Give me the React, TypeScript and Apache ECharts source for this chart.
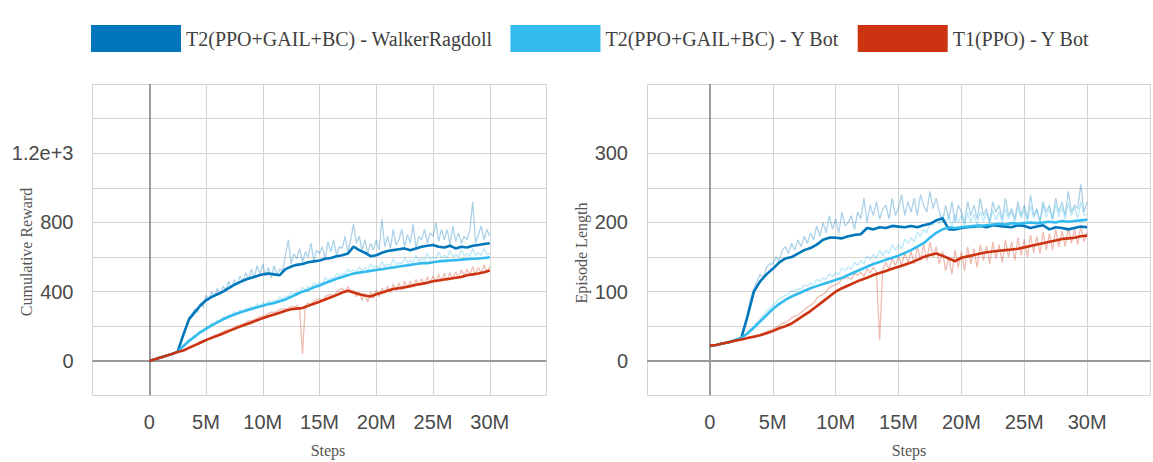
import React, { useEffect, useRef } from 'react';
import * as echarts from 'echarts';

const seriesNames = ['T2(PPO+GAIL+BC) - WalkerRagdoll', 'T2(PPO+GAIL+BC) - Y Bot', 'T1(PPO) - Y Bot'];
const seriesColors = ['#0077bb', '#33bbee', '#cc3311'];

const xTickValues = [0, 5, 10, 15, 20, 25, 30];
const xTickLabels = ['0', '5M', '10M', '15M', '20M', '25M', '30M'];
const rewardTickValues = [0, 400, 800, 1200];
const rewardTickLabels = ['0', '400', '800', '1.2e+3'];
const lengthTickValues = [0, 100, 200, 300];
const lengthTickLabels = ['0', '100', '200', '300'];

// steps in millions (smoothed curves)
const steps = [0,0.5,1,1.5,2,2.5,3,3.5,4,4.5,5,5.5,6,6.5,7,7.5,8,8.5,9,9.5,10,10.5,11,11.5,12,12.5,13,13.5,14,14.5,15,15.5,16,16.5,17,17.5,18,18.5,19,19.5,20,20.5,21,21.5,22,22.5,23,23.5,24,24.5,25,25.5,26,26.5,27,27.5,28,28.5,29,29.5,30];

const rewardWalker = [0,10,20,30,40,52,150,240,280,320,350,370,385,400,420,440,455,470,480,490,500,505,500,495,530,545,555,560,570,575,580,590,595,605,610,620,660,640,625,605,610,625,635,640,645,650,640,650,660,665,670,660,655,665,650,660,655,665,670,675,680];
const rewardYBotT2 = [0,10,20,30,40,52,85,115,140,165,185,205,222,240,255,268,280,290,300,310,318,328,335,345,355,370,385,400,410,425,435,450,462,475,485,495,505,510,515,520,525,530,535,540,545,550,555,560,565,565,570,575,578,580,582,585,588,590,592,595,598];
const rewardYBotT1 = [0,10,20,30,40,52,60,75,90,105,120,133,145,158,172,185,198,210,222,235,247,258,268,278,290,298,302,306,318,330,342,355,368,380,395,405,395,385,378,372,385,395,405,415,420,425,432,440,445,452,460,465,470,475,480,485,495,500,505,512,522];

const lengthWalker = [22,23,25,27,30,33,65,100,115,125,133,142,148,150,155,160,163,168,175,178,178,177,180,182,183,192,190,193,192,195,194,193,195,193,196,198,203,206,190,190,192,193,194,195,193,196,195,194,193,196,195,192,194,196,190,193,192,190,192,194,193];
const lengthYBotT2 = [22,23,25,27,30,33,40,48,57,66,75,82,88,93,97,101,105,108,111,114,117,120,124,128,132,136,140,143,146,149,152,156,160,165,170,178,185,190,193,192,193,194,195,195,196,197,198,197,199,198,199,200,199,200,201,200,202,201,202,203,204];
const lengthYBotT1 = [22,23,25,27,29,31,33,35,37,40,43,47,50,54,60,66,72,79,86,93,100,105,109,113,117,120,124,127,130,133,136,139,142,146,150,153,155,152,148,144,149,151,153,155,157,158,159,160,161,162,164,166,168,170,172,174,176,177,178,180,181];

// raw (unsmoothed) curves, steps in millions
const rawSteps = [3,3.25,3.5,3.75,4,4.25,4.5,4.75,5,5.25,5.5,5.75,6,6.25,6.5,6.75,7,7.25,7.5,7.75,8,8.25,8.5,8.75,9,9.25,9.5,9.75,10,10.25,10.5,10.75,11,11.25,11.5,11.75,12,12.25,12.5,12.75,13,13.25,13.5,13.75,14,14.25,14.5,14.75,15,15.25,15.5,15.75,16,16.25,16.5,16.75,17,17.25,17.5,17.75,18,18.25,18.5,18.75,19,19.25,19.5,19.75,20,20.25,20.5,20.75,21,21.25,21.5,21.75,22,22.25,22.5,22.75,23,23.25,23.5,23.75,24,24.25,24.5,24.75,25,25.25,25.5,25.75,26,26.25,26.5,26.75,27,27.25,27.5,27.75,28,28.25,28.5,28.75,29,29.25,29.5,29.75,30];

const rawRewardWalker = [160,200,250,270,300,280,330,310,380,350,400,370,420,380,430,410,460,420,470,440,490,460,510,470,530,480,550,500,560,490,540,480,550,500,530,520,610,700,560,620,590,650,570,630,600,680,580,640,620,660,590,690,630,700,610,660,650,720,630,700,790,680,720,640,700,620,680,640,700,640,820,660,720,650,760,670,700,760,660,730,680,790,650,720,700,760,680,740,720,800,690,760,700,760,670,780,690,740,680,720,700,760,920,680,730,780,700,760,720];
const rawRewardYBotT2 = [90,105,125,130,150,160,175,170,195,200,220,210,235,230,255,245,265,260,285,270,295,285,305,300,315,305,330,315,335,325,350,335,350,345,370,355,375,370,395,385,400,395,425,410,430,420,450,440,455,445,480,465,480,475,505,490,505,500,530,515,525,510,545,520,540,525,560,535,550,535,575,545,560,545,590,555,570,560,600,565,585,570,610,575,595,580,620,585,600,590,630,595,610,595,640,600,615,600,645,605,620,605,650,610,625,610,650,615,620];
const rawRewardYBotT1 = [62,70,78,88,95,100,110,118,125,130,140,150,152,158,168,178,180,185,195,205,205,212,222,230,232,238,248,256,258,262,275,282,280,285,298,300,300,305,315,310,320,300,40,320,335,325,345,355,360,345,370,380,385,370,400,410,420,395,430,400,410,370,400,350,390,340,400,360,410,370,420,390,430,395,445,405,450,410,460,420,460,425,470,435,475,440,485,450,490,455,500,460,505,465,510,475,515,480,525,490,530,495,545,500,540,505,555,515,545];

const rawLengthWalker = [70,90,105,115,125,120,135,140,140,150,145,160,165,155,170,160,175,165,180,170,185,175,195,180,200,185,210,190,205,185,215,195,200,210,190,215,205,235,200,225,210,230,205,220,225,205,235,210,220,240,210,230,215,235,210,240,225,215,245,220,235,215,200,225,205,230,200,225,215,200,230,210,225,205,235,210,220,200,230,215,225,205,235,210,220,205,230,210,225,205,240,210,220,200,230,215,225,205,235,215,230,210,245,215,225,220,255,215,230];
const rawLengthYBotT2 = [42,46,52,56,60,66,72,76,80,84,90,92,95,96,102,100,104,103,110,108,112,110,118,115,120,118,126,122,128,125,134,130,136,132,142,138,145,140,152,146,154,148,160,152,160,155,168,160,168,162,176,170,178,172,186,180,190,185,200,196,205,198,210,200,208,195,212,200,210,195,214,200,212,196,216,202,214,198,218,204,215,200,220,205,216,200,222,206,218,202,224,206,218,202,225,208,220,204,226,208,222,205,228,210,222,206,230,210,212];
const rawLengthYBotT1 = [34,35,36,37,38,40,42,44,46,48,51,54,55,58,62,65,66,70,74,78,80,84,90,94,96,100,106,108,110,112,118,120,120,118,126,124,128,122,133,127,135,128,30,132,142,132,148,138,150,138,156,142,158,140,165,145,168,145,172,150,165,140,158,130,150,125,160,135,158,130,165,140,162,135,168,145,166,140,172,148,168,142,175,150,172,145,178,152,176,150,182,156,180,155,186,160,184,160,190,165,188,165,192,170,190,168,195,172,185];

const smoothSets = [
  [rewardWalker, rewardYBotT2, rewardYBotT1],
  [lengthWalker, lengthYBotT2, lengthYBotT1],
];
const rawSets = [
  [rawRewardWalker, rawRewardYBotT2, rawRewardYBotT1],
  [rawLengthWalker, rawLengthYBotT2, rawLengthYBotT1],
];

const tickFormatter = (vals: number[], labels: string[]) => (v: number) => {
  const i = vals.indexOf(v);
  return i >= 0 ? labels[i] : '';
};

const labelFont = { fontFamily: '"Liberation Sans", Arial, sans-serif', fontSize: 20, color: '#4a4a4a' };
const gridLine = { color: '#d4d4d4', width: 1 };

function makeSeries(name: string, color: string, xs: number[], ys: number[], gi: number, raw: boolean, zero: boolean) {
  const s: any = {
    name,
    type: 'line',
    xAxisIndex: gi,
    yAxisIndex: gi,
    data: xs.map((x, i) => [x, ys[i]]),
    symbol: 'none',
    showSymbol: false,
    silent: true,
    lineStyle: { color, width: raw ? 1.3 : 2.6, opacity: raw ? 0.33 : 1 },
    itemStyle: { color },
    emphasis: { disabled: true },
    z: raw ? 2 : 3,
  };
  if (zero) {
    s.markLine = {
      silent: true,
      z: 1,
      symbol: 'none',
      label: { show: false },
      lineStyle: { color: '#9a9a9a', width: 2, type: 'solid' },
      data: [{ xAxis: 0 }, { yAxis: 0 }],
    };
  }
  return s;
}

export default function App() {
  const ref = useRef<HTMLDivElement>(null);
  useEffect(() => {
    if (!ref.current) return;
    const chart = echarts.init(ref.current, undefined, { renderer: 'svg' });
    const series: any[] = [];
    [0, 1].forEach((gi) => {
      seriesNames.forEach((n, k) => {
        series.push(makeSeries(n, seriesColors[k], steps, smoothSets[gi][k], gi, false, k === 2));
      });
    });
    [0, 1].forEach((gi) => {
      seriesNames.forEach((n, k) => {
        series.push(makeSeries(n, seriesColors[k], rawSteps, rawSets[gi][k], gi, true, false));
      });
    });
    const xAxisBase = {
      type: 'value',
      min: -5,
      max: 35,
      interval: 5,
      axisLine: { show: false },
      axisTick: { show: true, length: 9, lineStyle: gridLine },
      splitLine: { show: true, lineStyle: gridLine },
      axisLabel: { ...labelFont, margin: 16, formatter: tickFormatter(xTickValues, xTickLabels) },
    };
    chart.setOption({
      animation: false,
      backgroundColor: '#ffffff',
      legend: {
        data: seriesNames.map((n) => ({ name: n, icon: 'rect' })),
        icon: 'rect',
        left: 91,
        top: 25,
        padding: 0,
        itemWidth: 90,
        itemHeight: 27,
        itemGap: 18,
        selectedMode: false,
        itemStyle: { opacity: 1 },
        textStyle: { fontFamily: '"Liberation Serif", "Times New Roman", serif', fontSize: 20, color: '#3f3f3f' },
      },
      grid: [
        { left: 92.5, top: 84, width: 454, height: 311.5 },
        { left: 647, top: 84, width: 506, height: 311.5 },
      ],
      xAxis: [
        { ...xAxisBase, gridIndex: 0 },
        { ...xAxisBase, gridIndex: 1 },
      ],
      yAxis: [
        {
          type: 'value', gridIndex: 0, min: -200, max: 1600, interval: 200,
          axisLine: { show: false },
          axisTick: { show: true, length: 9, lineStyle: gridLine },
          splitLine: { show: true, lineStyle: gridLine },
          axisLabel: { ...labelFont, margin: 19, formatter: tickFormatter(rewardTickValues, rewardTickLabels) },
        },
        {
          type: 'value', gridIndex: 1, min: -50, max: 400, interval: 50,
          axisLine: { show: false },
          axisTick: { show: true, length: 9, lineStyle: gridLine },
          splitLine: { show: true, lineStyle: gridLine },
          axisLabel: { ...labelFont, margin: 19, formatter: tickFormatter(lengthTickValues, lengthTickLabels) },
        },
      ],
      graphic: [
        { type: 'text', x: 26, y: 252, rotation: Math.PI / 2, silent: true,
          style: { text: 'Cumulative Reward', fontFamily: '"Liberation Serif", serif', fontSize: 16, fill: '#555', textAlign: 'center', textVerticalAlign: 'middle' } },
        { type: 'text', x: 581, y: 253, rotation: Math.PI / 2, silent: true,
          style: { text: 'Episode Length', fontFamily: '"Liberation Serif", serif', fontSize: 16, fill: '#555', textAlign: 'center', textVerticalAlign: 'middle' } },
        { type: 'text', x: 328, y: 450, silent: true,
          style: { text: 'Steps', fontFamily: '"Liberation Serif", serif', fontSize: 16, fill: '#555', textAlign: 'center', textVerticalAlign: 'middle' } },
        { type: 'text', x: 909, y: 450, silent: true,
          style: { text: 'Steps', fontFamily: '"Liberation Serif", serif', fontSize: 16, fill: '#555', textAlign: 'center', textVerticalAlign: 'middle' } },
      ],
      series,
    });
    return () => chart.dispose();
  }, []);
  return <div ref={ref} style={{ position: 'absolute', left: 0, top: 0, width: 1153, height: 462 }} />;
}
